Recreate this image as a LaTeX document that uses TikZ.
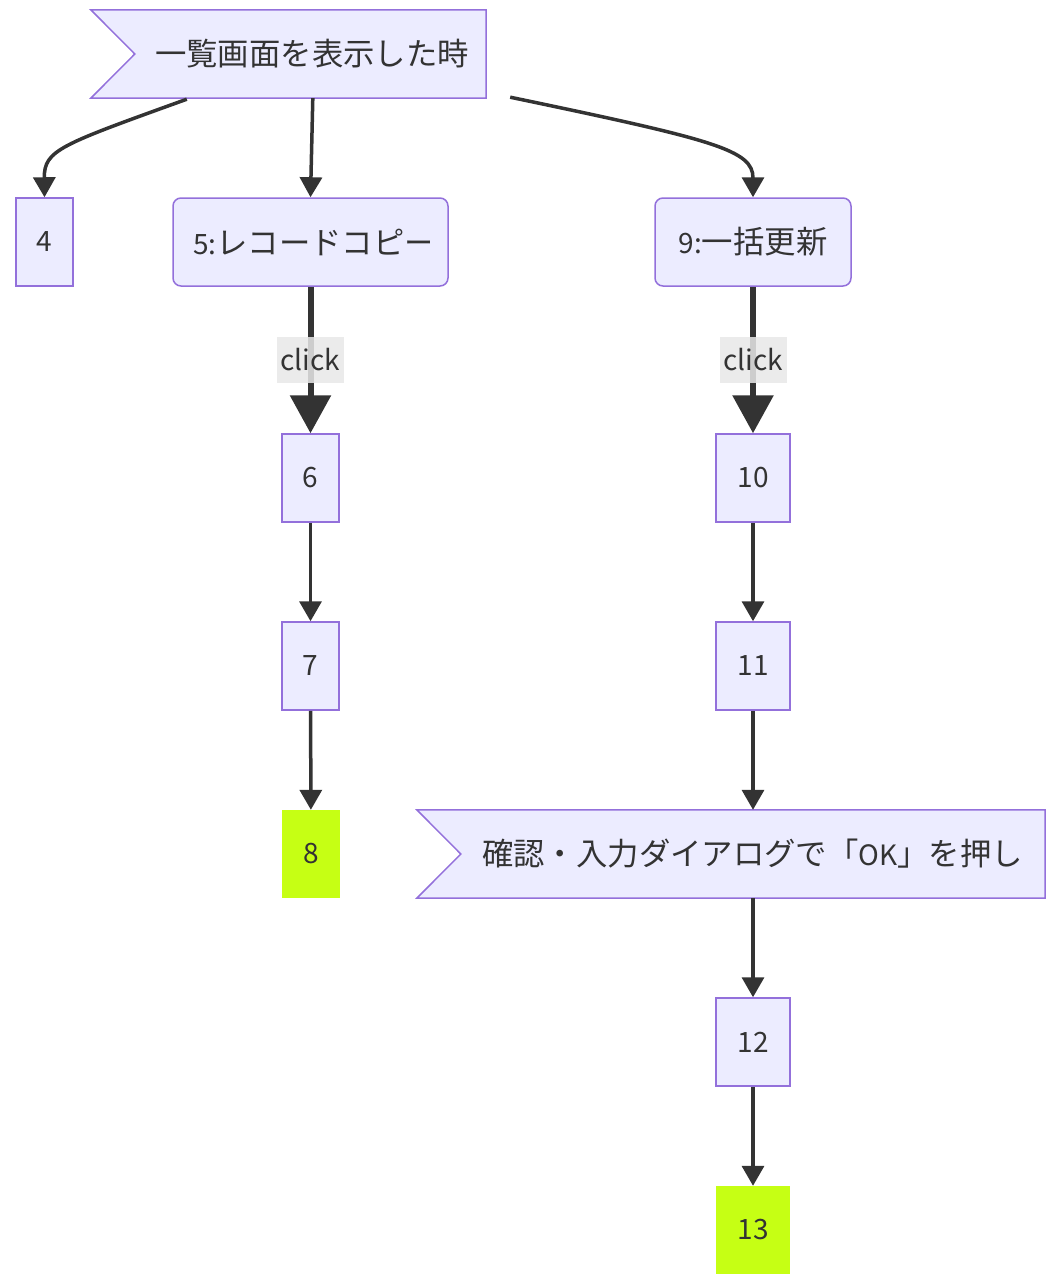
\documentclass[tikz,border=0pt]{standalone}
\usepackage{fontspec}
\setmainfont{Noto Sans CJK JP}
\newfontfamily\cjkbig{Noto Sans CJK JP}[Scale=1.12]
\usetikzlibrary{arrows.meta,calc}
\definecolor{nodefill}{HTML}{ECECFF}
\definecolor{nodeline}{HTML}{9370DB}
\definecolor{edgecol}{HTML}{333333}
\definecolor{limefill}{HTML}{C6FF14}
\definecolor{lblbg}{HTML}{E8E8E8}
\newcommand{\jp}[1]{{\cjkbig #1}}
\begin{document}
\begin{tikzpicture}[x=1pt,y=-1pt,
  txt/.style={font=\fontsize{28}{32}\selectfont,text=edgecol},
  box/.style={txt,draw=nodeline,fill=nodefill,line width=1.5pt,minimum height=88pt,inner sep=0pt},
  rbox/.style={box,rounded corners=8pt},
  endbox/.style={txt,fill=limefill,minimum height=88pt,inner sep=0pt},
  flagbase/.style={minimum height=88pt,inner sep=0pt},
  flagshape/.style={draw=nodeline,fill=nodefill,line width=1.5pt},
  edge/.style={draw=edgecol,line width=3.5pt,-{Triangle[width=22pt,length=20pt]}},
  thickedge/.style={draw=edgecol,line width=6pt,-{Triangle[width=40pt,length=38pt]}},
  lbl/.style={txt,fill=lblbg,fill opacity=0.85,text opacity=1,inner sep=0pt,minimum width=67pt,minimum height=46pt}
]
\useasboundingbox (0,0) rectangle (1061,1287);

% top flag
\node[flagbase,minimum width=395pt] (start) at (288.5,54) {};
\draw[flagshape] (start.north west) -- (start.north east) -- (start.south east) -- (start.south west) -- ($(start.west)+(44,0)$) -- cycle;
\begin{scope}
\clip (start.north west) rectangle ($(start.south east)+(-19,0)$);
\node[txt,anchor=west,inner sep=0pt] (starttext) at (155,54) {\jp{一覧画面を表示した時}};
\end{scope}

% row 2
\node[box,minimum width=57pt] (n4) at (44.5,242) {4};
\node[rbox,minimum width=275pt] (n5) at (310.5,242) {};
\begin{scope}
\clip (175,200) rectangle (429,284);
\node[txt,anchor=west,inner sep=0pt] (n5text) at (193,242) {5:\jp{レコードコピー}};
\end{scope}
\node[rbox,minimum width=196pt] (n9) at (753,242) {9:\jp{一括更新}};

% left column
\node[box,minimum width=57pt] (n6) at (310.5,478) {6};
\node[box,minimum width=57pt] (n7) at (310.5,666) {7};
\node[endbox,minimum width=58pt] (n8) at (311,854) {8};

% right column
\node[box,minimum width=74pt] (n10) at (753,478) {10};
\node[box,minimum width=74pt] (n11) at (753,666) {11};
\node[flagbase,minimum width=628pt] (dlg) at (731,854) {};
\draw[flagshape] (dlg.north west) -- (dlg.north east) -- (dlg.south east) -- (dlg.south west) -- ($(dlg.west)+(44,0)$) -- cycle;
\node[txt,anchor=west,inner sep=0pt] (dlgtext) at (482,854) {\jp{確認・入力ダイアログで「}OK\jp{」を押し}};
\node[box,minimum width=74pt] (n12) at (753,1042) {12};
\node[endbox,minimum width=74pt] (n13) at (753,1230) {13};

% edges from start
\coordinate (s4) at ($(start.south west)+(96,1)$);
\coordinate (s5) at ($(start.south west)+(222,0)$);
\coordinate (s9) at ($(start.south east)+(24,-1)$);
\draw[edge] (s4) .. controls (60,145) and (44,150) .. (n4.north);
\draw[edge] (s5) -- (n5.north);
\draw[edge] (s9) .. controls (715,140) and (753,150) .. (n9.north);

% click edges
\draw[thickedge] (n5.south) -- node[lbl] (c1) {click} (n6.north);
\draw[thickedge] (n9.south) -- node[lbl] (c2) {click} (n10.north);

% remaining edges
\draw[edge] (n6) -- (n7);
\draw[edge] (n7) -- (n8);
\draw[edge] (n10) -- (n11);
\draw[edge] (n11.south) -- (n11.south |- dlg.north);
\draw[edge] (dlg.south -| n12.north) -- (n12.north);
\draw[edge] (n12) -- (n13);
\end{tikzpicture}
\end{document}
